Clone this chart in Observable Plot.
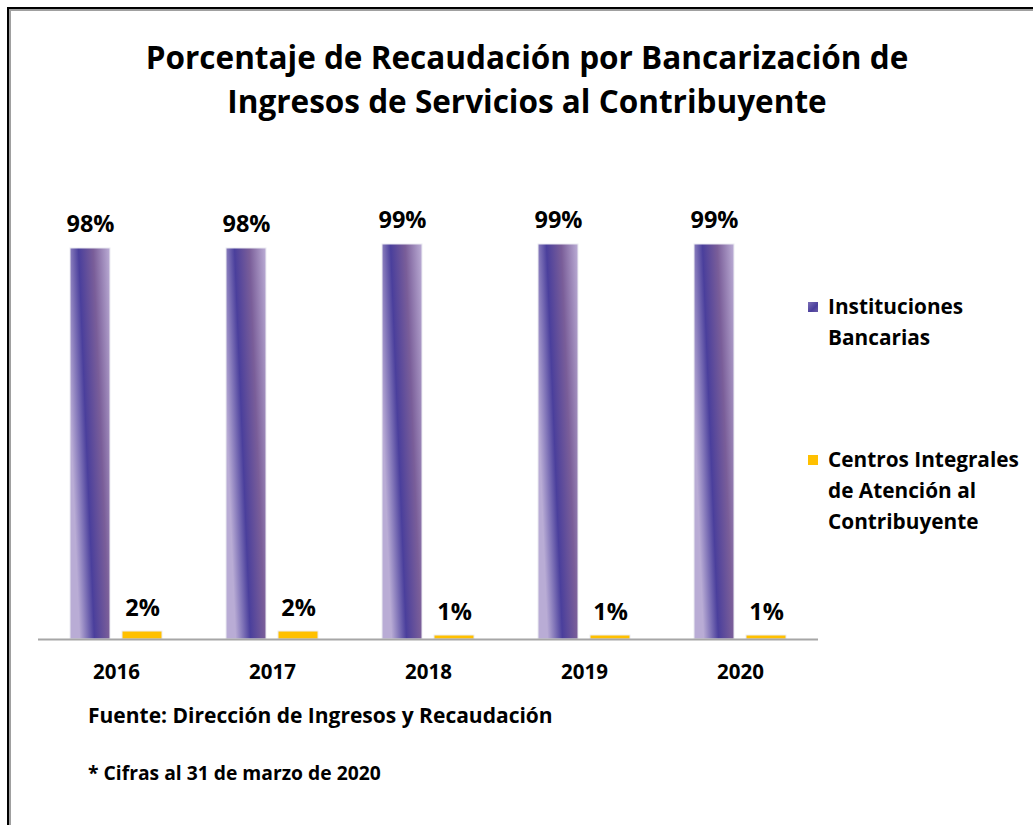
<!DOCTYPE html>
<html>
<head>
<meta charset="utf-8">
<script src="https://cdn.jsdelivr.net/npm/d3@7"></script>
<script src="https://cdn.jsdelivr.net/npm/@observablehq/plot@0.6"></script>
<style>
  html, body { margin: 0; padding: 0; background: #fff; }
  #wrap { position: relative; width: 1033px; height: 825px; overflow: hidden; font-family: "Open Sans", Lato, sans-serif; font-weight: bold; color: #000; }
  #frame { position: absolute; left: 7px; top: 7px; width: 1100px; height: 900px; border-left: 2px solid #000; border-top: 2px solid #000; }
  #frame2 { position: absolute; left: 9px; top: 9px; width: 1100px; height: 900px; border-left: 2px solid #a0a0a0; border-top: 2px solid #a0a0a0; }
  #chart { position: absolute; left: 0; top: 0; }
  .title { position: absolute; left: 0; width: 1054px; text-align: center; font-size: 31.5px; line-height: 45px; }
  .leg { position: absolute; left: 828px; font-size: 20.8px; line-height: 31px; white-space: nowrap; }
  .sw { position: absolute; left: 808px; width: 10px; height: 10px; }
  .foot { position: absolute; left: 88px; white-space: nowrap; }
</style>
</head>
<body>
<div id="wrap">
  <div id="frame"></div>
  <div id="frame2"></div>
  <div id="chart"></div>
  <div class="title" style="top:34px">Porcentaje de Recaudación por Bancarización de</div>
  <div class="title" style="top:78px">Ingresos de Servicios al Contribuyente</div>
  <div id="legend"></div>
  <div class="foot" style="top:701px;font-size:21px">Fuente: Dirección de Ingresos y Recaudación</div>
  <div class="foot" style="top:759px;font-size:19.3px">* Cifras al 31 de marzo de 2020</div>
</div>
<script>
const years = ["2016", "2017", "2018", "2019", "2020"];
const series = ["Instituciones Bancarias", "Centros Integrales de Atención al Contribuyente"];
const bancarias = [98, 98, 99, 99, 99];
const centros = [2, 2, 1, 1, 1];
const legendLines = [["Instituciones", "Bancarias"], ["Centros Integrales", "de Atención al", "Contribuyente"]];

const data = [];
years.forEach((y, i) => {
  data.push({year: y, series: series[0], value: bancarias[i]});
  data.push({year: y, series: series[1], value: centros[i]});
});

const chart = Plot.plot({
  width: 1033,
  height: 700,
  marginLeft: 36,
  marginRight: 213,
  marginTop: 240,
  marginBottom: 61,
  style: {fontFamily: "'Open Sans', Lato, sans-serif", fontWeight: "bold", fontSize: "20px", color: "#000", background: "transparent"},
  fx: {domain: years, padding: 0, label: null, axis: null},
  x: {domain: series, paddingInner: 0.23, paddingOuter: 0.6, axis: null},
  y: {domain: [0, 100], axis: null},
  color: {domain: series, range: ["url(#gradBlue)", "#FFC000"]},
  marks: [
    Plot.barY(data, {fx: "year", x: "series", y: "value", fill: "series", stroke: "#ececf2", strokeWidth: 1}),
    Plot.ruleY([0], {stroke: "#a6a6a6", strokeWidth: 2}),
    Plot.text(data, {fx: "year", x: "series", y: "value", text: d => d.value + "%", lineAnchor: "bottom", dy: -16, fontSize: 23.5, fontWeight: "bold", fill: "#000"}),
    Plot.axisFx({anchor: "bottom", tickSize: 0, tickPadding: 25, label: null, fontSize: 20.5, fontWeight: "bold", fill: "#000"})
  ]
});

const svg = d3.select(chart);
const defs = svg.insert("defs", ":first-child");
const g = defs.append("linearGradient").attr("id", "gradBlue")
  .attr("x1", 0).attr("y1", 0.4).attr("x2", 1).attr("y2", 0);
[[0, "#b9acd5"], [0.32, "#4a3f9c"], [0.64, "#7a5e99"], [1, "#bcaed6"]].forEach(([o, c]) => {
  g.append("stop").attr("offset", o).attr("stop-color", c);
});
document.getElementById("chart").appendChild(chart);

// legend
const legend = document.getElementById("legend");
const legTops = [291, 444];
const swatch = ["linear-gradient(135deg, #7d70b8, #4a3f9c 60%, #6a5aa8)", "#FFC000"];
legendLines.forEach((lines, i) => {
  const sw = document.createElement("div");
  sw.className = "sw";
  sw.style.top = (legTops[i] + 11) + "px";
  sw.style.background = swatch[i];
  legend.appendChild(sw);
  const t = document.createElement("div");
  t.className = "leg";
  t.style.top = legTops[i] + "px";
  t.innerHTML = lines.join("<br>");
  legend.appendChild(t);
});
</script>
</body>
</html>
